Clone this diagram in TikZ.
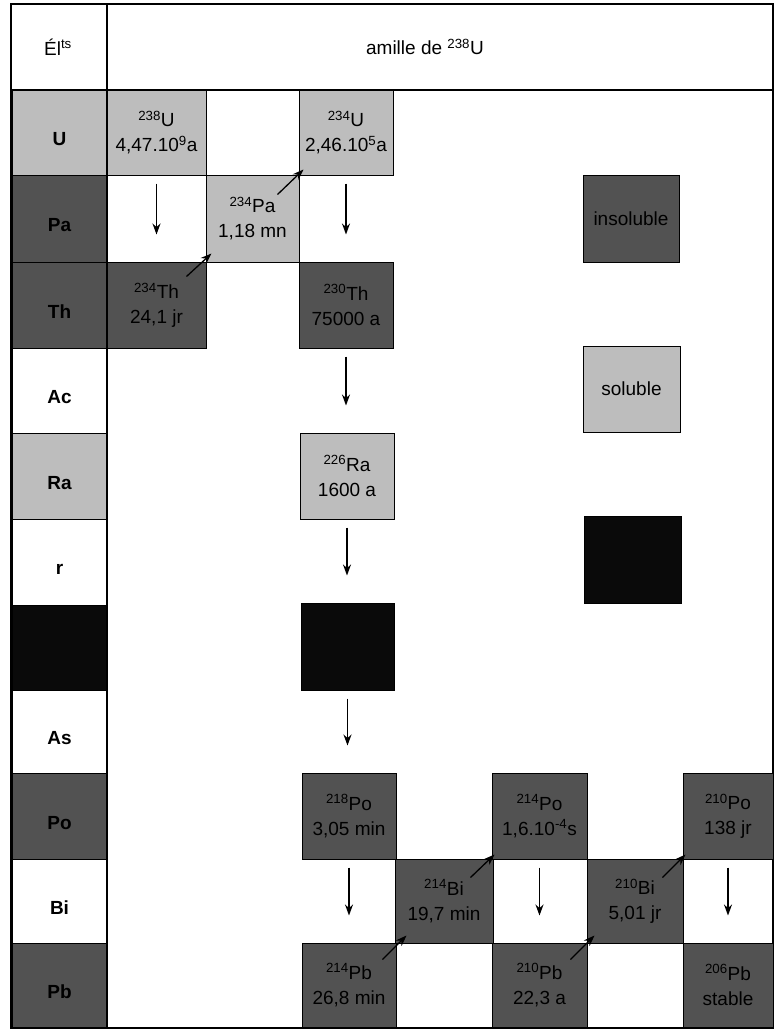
\documentclass[tikz,border=0pt]{standalone}
\usepackage{fontspec}
\setmainfont{Liberation Sans}
\usetikzlibrary{arrows.meta}
\definecolor{lightg}{gray}{0.74}
\definecolor{darkg}{gray}{0.32}
\definecolor{blk}{gray}{0.04}
\tikzset{
  cellbox/.style={draw=black, line width=1pt, inner sep=0pt, align=center,
    font=\fontsize{19}{25}\selectfont, text=black},
  labtxt/.style={font=\fontsize{19}{22}\selectfont\bfseries, text=black, yshift=-7pt, inner sep=0pt},
  arr/.style={line width=1.3pt, -{Stealth[length=11pt,width=8pt]}},
  frame/.style={line width=1.3pt}
}
\newcommand\mkbox[8][cellbox]{%
  \node[cellbox, #1, fill=#7, minimum width={#4pt-#2pt}, minimum height={#5pt-#3pt}]
    (#8) at ({(#2+#4)/2},{(#3+#5)/2}) {#6};}
\newcommand\lcell[5]{% y0, y1, label, fill, name
  \mkbox[label={[labtxt]center:#3}]{12}{#1}{107}{#2}{}{#4}{#5}}
\newcommand\vdecay[2]{%
  \draw[arr] ([yshift=-8pt]#1.south) -- ([yshift=27pt]#1.south |- #2.north);}
\begin{document}
\begin{tikzpicture}[x=1pt,y=-1pt]
\useasboundingbox (0,0) rectangle (775,1029);
% left column
\lcell{90}{175}{U}{lightg}{lU}
\lcell{175}{262}{Pa}{darkg}{lPa}
\lcell{262}{348}{Th}{darkg}{lTh}
\lcell{348}{433}{Ac}{white}{lAc}
\lcell{433}{519}{Ra}{lightg}{lRa}
\lcell{519}{605}{r}{white}{lr}
\lcell{605}{690}{}{blk}{lRn}
\lcell{690}{773}{As}{white}{lAs}
\lcell{773}{859}{Po}{darkg}{lPo}
\lcell{859}{943}{Bi}{white}{lBi}
\lcell{943}{1027}{Pb}{darkg}{lPb}
% frame
\draw[frame] (11,4) rectangle (773,1028);
\draw[frame] (11,90) -- (773,90);
\draw[frame] (107,4) -- (107,1028);
% header
\node[font=\fontsize{19}{22}\selectfont] (h1) at (58,47) {Él\textsuperscript{ts}};
\node[font=\fontsize{19}{22}\selectfont] (h2) at (425,47) {amille de \textsuperscript{238}U};
% nuclides
\mkbox{107}{90}{206}{175}{\textsuperscript{238}U\\4,47.10\textsuperscript{9}a}{lightg}{U238}
\mkbox{299}{90}{393}{175}{\textsuperscript{234}U\\2,46.10\textsuperscript{5}a}{lightg}{U234}
\mkbox{206}{175}{299}{262}{\textsuperscript{234}Pa\\1,18 mn}{lightg}{Pa234}
\mkbox{107}{262}{206}{348}{\textsuperscript{234}Th\\24,1 jr}{darkg}{Th234}
\mkbox{299}{262}{393}{348}{\textsuperscript{230}Th\\75000 a}{darkg}{Th230}
\mkbox{300}{433}{394}{519}{\textsuperscript{226}Ra\\1600 a}{lightg}{Ra226}
\mkbox{301}{603}{394}{690}{}{blk}{Rn}
\mkbox{302}{773}{396}{859}{\textsuperscript{218}Po\\3,05 min}{darkg}{Po218}
\mkbox{395}{859}{493}{943}{\textsuperscript{214}Bi\\19,7 min}{darkg}{Bi214}
\mkbox{492}{773}{587}{859}{\textsuperscript{214}Po\\1,6.10\textsuperscript{-4}s}{darkg}{Po214}
\mkbox{302}{943}{396}{1027}{\textsuperscript{214}Pb\\26,8 min}{darkg}{Pb214}
\mkbox{492}{943}{587}{1027}{\textsuperscript{210}Pb\\22,3 a}{darkg}{Pb210}
\mkbox{587}{859}{683}{943}{\textsuperscript{210}Bi\\5,01 jr}{darkg}{Bi210}
\mkbox{683}{773}{773}{859}{\textsuperscript{210}Po\\138 jr}{darkg}{Po210}
\mkbox{683}{943}{773}{1027}{\textsuperscript{206}Pb\\stable}{darkg}{Pb206}
% legend
\mkbox{583}{175}{679}{262}{insoluble}{darkg}{Lins}
\mkbox{583}{346}{680}{432}{soluble}{lightg}{Lsol}
\mkbox{584}{516}{681}{603}{}{blk}{Lblk}
% vertical arrows
\vdecay{U238}{Th234}
\vdecay{U234}{Th230}
\vdecay{Th230}{Ra226}
\vdecay{Ra226}{Rn}
\vdecay{Rn}{Po218}
\vdecay{Po218}{Pb214}
\vdecay{Po214}{Pb210}
\vdecay{Po210}{Pb206}
% diagonal arrows
\draw[arr] ([shift={(-20pt,-15pt)}]Th234.north east) -- ([shift={(6pt,9pt)}]Pa234.south west);
\draw[arr] ([shift={(-22pt,-20pt)}]Pa234.north east) -- ([shift={(5pt,6pt)}]U234.south west);
\draw[arr] ([shift={(-14pt,-17pt)}]Pb214.north east) -- ([shift={(12pt,8pt)}]Bi214.south west);
\draw[arr] ([shift={(-23pt,-19pt)}]Bi214.north east) -- ([shift={(3pt,5pt)}]Po214.south west);
\draw[arr] ([shift={(-17pt,-17pt)}]Pb210.north east) -- ([shift={(8pt,8pt)}]Bi210.south west);
\draw[arr] ([shift={(-21pt,-19pt)}]Bi210.north east) -- ([shift={(3pt,5pt)}]Po210.south west);
\end{tikzpicture}
\end{document}
